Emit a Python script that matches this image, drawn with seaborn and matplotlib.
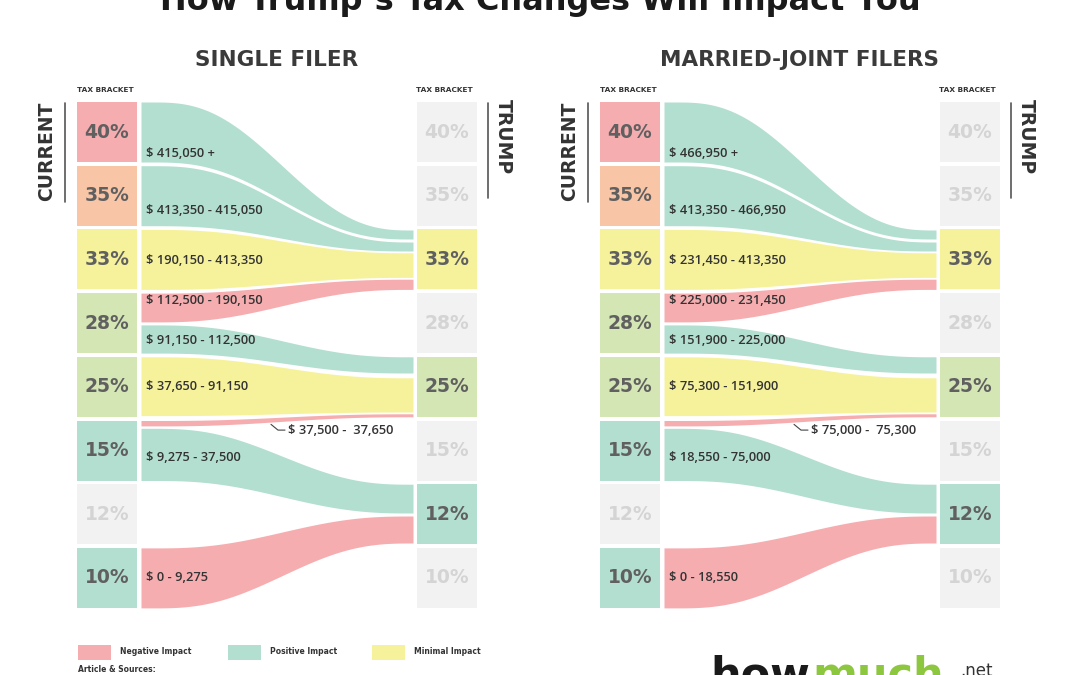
import numpy as np
import matplotlib
matplotlib.use('Agg')
import matplotlib.pyplot as plt
from matplotlib.patches import Rectangle
import seaborn as sns

sns.set_theme(style='white')
plt.rcParams['font.family'] = ['DejaVu Sans']

# Tax brackets (top to bottom)
brackets = ['40%', '35%', '33%', '28%', '25%', '15%', '12%', '10%']
current_colors = ['pink', 'peach', 'yellow', 'lime', 'lime', 'teal', 'gray', 'teal']
trump_colors = ['gray', 'gray', 'yellow', 'gray', 'lime', 'gray', 'teal', 'gray']

# Flows from the current bracket to the Trump bracket
flow_src = ['40%', '35%', '33%', '28%', '28%', '25%', '15%', '15%', '10%']
flow_dst = ['33%', '33%', '33%', '33%', '25%', '25%', '25%', '12%', '12%']
flow_impact = ['Positive', 'Positive', 'Minimal', 'Negative', 'Positive',
               'Minimal', 'Negative', 'Positive', 'Negative']
# share of the bracket box covered by each flow end (0 = top, 1 = bottom)
src_start = [0.00, 0.00, 0.00, 0.00, 0.53, 0.00, 0.00, 0.13, 0.00]
src_end = [1.00, 1.00, 1.00, 0.48, 1.00, 0.98, 0.09, 1.00, 1.00]
dst_start = [0.01, 0.21, 0.39, 0.83, 0.00, 0.35, 0.95, 0.00, 0.53]
dst_end = [0.16, 0.36, 0.80, 1.00, 0.27, 0.92, 1.00, 0.48, 0.98]

single_labels = ['$ 415,050 +', '$ 413,350 - 415,050', '$ 190,150 - 413,350',
                 '$ 112,500 - 190,150', '$ 91,150 - 112,500', '$ 37,650 - 91,150',
                 '$ 37,500 -  37,650', '$ 9,275 - 37,500', '$ 0 - 9,275']
married_labels = ['$ 466,950 +', '$ 413,350 - 466,950', '$ 231,450 - 413,350',
                  '$ 225,000 - 231,450', '$ 151,900 - 225,000', '$ 75,300 - 151,900',
                  '$ 75,000 -  75,300', '$ 18,550 - 75,000', '$ 0 - 18,550']
panel_titles = ['SINGLE FILER', 'MARRIED-JOINT FILERS']

impact_names = ['Negative', 'Positive', 'Minimal']

palette = {'pink': '#F6ADB0', 'peach': '#F9C5A7', 'yellow': '#F6F29C',
           'lime': '#D5E6B5', 'teal': '#B3DFD0', 'gray': '#F2F2F2'}
impact_colors = {'Negative': palette['pink'], 'Positive': palette['teal'],
                 'Minimal': palette['yellow']}

# layout (pixels)
W, H = 1080, 675
box_w, gap = 60, 4
row_h = 60 / 63.7
label_pos = [0.85, 0.74, 0.51, 0.13, 0.79, 0.50, None, 0.61, 0.50]
label_font = ['Open Sans', 'DejaVu Sans']


def fx(x):
    return x / W


def fy(y):
    return 1 - y / H


fig = plt.figure(figsize=(10.8, 6.75), dpi=100)
fig.patch.set_facecolor('white')

fig.text(fx(540), fy(10), 'How Trump\u2019s Tax Changes Will Impact You', ha='center',
         va='baseline', fontsize=23, fontweight='bold', color='#1a1a1a')

row_of = {b: i for i, b in enumerate(brackets)}
panel_left = [77, 600]
nrows = len(brackets)
total_h = (nrows - 1) + row_h

for p, labels in enumerate([single_labels, married_labels]):
    ax = fig.add_axes([fx(panel_left[p]), fy(102 + total_h * 63.7),
                       400 / W, total_h * 63.7 / H])
    ax.set_xlim(0, 400)
    ax.set_ylim(total_h, 0)
    ax.axis('off')

    # bracket boxes
    for i, b in enumerate(brackets):
        for x0, cname in [(0, current_colors[i]), (400 - box_w, trump_colors[i])]:
            ax.barh(i, box_w, left=x0, height=row_h, align='edge',
                    color=palette[cname], linewidth=0)
            tc = '#D4D4D4' if cname == 'gray' else '#606060'
            ax.text(x0 + box_w / 2, i + row_h / 2, b, ha='center', va='center',
                    fontsize=13.5, fontweight='bold', color=tc)

    # flows
    x0, x1 = box_w + gap, 400 - box_w - gap
    xs = np.linspace(x0, x1, 300)
    t = np.clip(((xs - x0) / (x1 - x0) - 0.04) / 0.96, 0, 1)
    s = 10 * t ** 3 - 15 * t ** 4 + 6 * t ** 5
    for k in range(len(flow_src)):
        r0, r1 = row_of[flow_src[k]], row_of[flow_dst[k]]
        lt, lb = r0 + src_start[k] * row_h, r0 + src_end[k] * row_h
        rt, rb = r1 + dst_start[k] * row_h, r1 + dst_end[k] * row_h
        ytop = lt + (rt - lt) * s
        ybot = lb + (rb - lb) * s
        ax.fill_between(xs, ytop, ybot, color=impact_colors[flow_impact[k]], linewidth=0)
        if label_pos[k] is not None:
            ax.text(x0 + 5, r0 + label_pos[k] * row_h, labels[k], ha='left', va='center',
                    fontsize=9.3, fontweight='semibold', family=label_font, color='#333333')
        else:
            yl = r0 + 0.16 * row_h
            ax.plot([x0 + 130, x0 + 137, x0 + 144], [yl - 0.09, yl, yl],
                    color='#444444', lw=0.8, clip_on=False)
            ax.text(x0 + 147, yl, labels[k], ha='left', va='center', fontsize=9.3,
                    fontweight='semibold', family=label_font, color='#333333')

    # headers
    ax.text(0, -0.19, 'TAX BRACKET', ha='left', va='center', fontsize=5.3,
            fontweight='bold', color='#333333', clip_on=False)
    ax.text(400 - box_w - 1, -0.19, 'TAX BRACKET', ha='left', va='center', fontsize=5.3,
            fontweight='bold', color='#333333', clip_on=False)
    ax.text(-30, 0.78, 'CURRENT', rotation=90, ha='center', va='center', fontsize=13.5,
            fontweight='bold', color='#333333', clip_on=False)
    ax.plot([-12, -12], [0.02, 1.57], color='#555555', lw=1.2, clip_on=False)
    ax.text(426, 0.55, 'TRUMP', rotation=-90, ha='center', va='center', fontsize=13.5,
            fontweight='bold', color='#333333', clip_on=False)
    ax.plot([411, 411], [0.02, 1.5], color='#555555', lw=1.2, clip_on=False)

    fig.text(fx(panel_left[p] + 200), fy(60), panel_titles[p], ha='center', va='center',
             fontsize=15.5, fontweight='bold', color='#3a3a3a')

# legend
leg_x = [78, 228, 372]
for name, lx in zip(impact_names, leg_x):
    fig.add_artist(Rectangle((fx(lx), fy(660)), 33 / W, 15 / H,
                             transform=fig.transFigure, color=impact_colors[name], lw=0))
    fig.text(fx(lx + 42), fy(652), name + ' Impact', ha='left', va='center',
             fontsize=5.5, fontweight='bold', color='#333333')
fig.text(fx(78), fy(670), 'Article & Sources:', ha='left', va='center', fontsize=5.5,
         fontweight='bold', color='#333333')

# logo (cut off at the bottom edge)
fig.text(fx(710), fy(688), 'how', ha='left', va='baseline', fontsize=31,
         fontweight='bold', color='#1a1a1a')
fig.text(fx(812), fy(688), 'much', ha='left', va='baseline', fontsize=31,
         fontweight='bold', color='#8DC63F')
fig.text(fx(960), fy(676), '.net', ha='left', va='baseline', fontsize=12,
         color='#333333')

fig.savefig('out.png', dpi=100, facecolor='white')
